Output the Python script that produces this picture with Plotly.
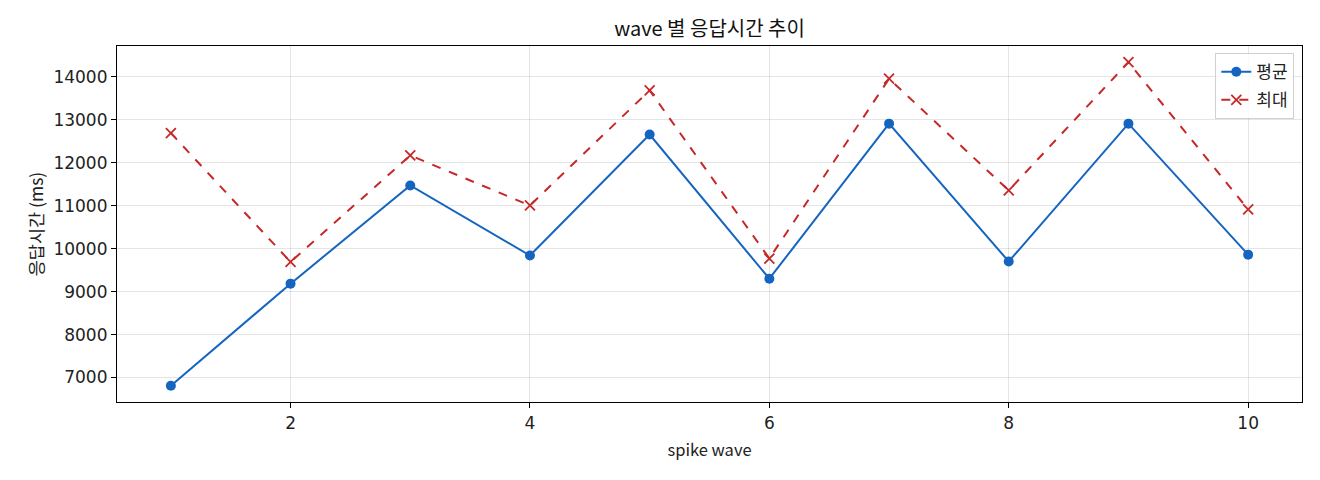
import plotly.graph_objects as go

# wave 별 응답시간 (ms)
waves = [1, 2, 3, 4, 5, 6, 7, 8, 9, 10]
avg_ms = [6810, 9185, 11470, 9840, 12655, 9300, 12910, 9700, 12910, 9860]
max_ms = [12690, 9690, 12170, 11005, 13685, 9770, 13955, 11355, 14340, 10915]

kr_font = "Noto Sans CJK KR, Noto Sans, sans-serif"
tick_font = "'DejaVu Sans', sans-serif"

fig = go.Figure()
fig.add_trace(go.Scatter(
    x=waves, y=avg_ms, name="평균", mode="lines+markers", legendgroup="a",
    line=dict(color="#1565C0", width=2),
    marker=dict(symbol="circle", size=10, color="#1565C0"),
))
fig.add_trace(go.Scatter(
    x=waves, y=max_ms, name="최대", mode="lines+markers", legendgroup="b",
    line=dict(color="#C62828", width=2, dash="dash"),
    marker=dict(symbol="x-thin", size=10, line=dict(color="#C62828", width=1.8)),
))

# page adds 8px body margin, so the figure is 8px smaller
fig.update_layout(
    width=1312, height=472,
    margin=dict(l=109, r=18, t=38, b=78),
    paper_bgcolor="white", plot_bgcolor="white",
    font=dict(family=kr_font, size=16, color="#222"),
    title=dict(text="wave 별 응답시간 추이", xref="paper", x=0.5, xanchor="center",
               y=0.955, yanchor="middle", font=dict(size=20, color="#111")),
    showlegend=True,
    legend=dict(x=0.9935, y=0.98, xanchor="right", yanchor="top",
                bgcolor="rgba(255,255,255,0.8)", bordercolor="#d0d0d0", borderwidth=1,
                font=dict(size=17), tracegroupgap=3),
)
fig.update_xaxes(
    range=[0.55, 10.45], tickvals=[2, 4, 6, 8, 10],
    tickfont=dict(family=tick_font, size=17),
    showgrid=True, gridcolor="rgba(0,0,0,0.1)", gridwidth=1,
    showline=True, linecolor="black", linewidth=1.2, mirror=True,
    ticks="outside", ticklen=5, tickcolor="black",
    zeroline=False,
    title=dict(text="spike wave", font=dict(size=16.5), standoff=12),
)
fig.update_yaxes(
    range=[6430, 14717], tickvals=[7000, 8000, 9000, 10000, 11000, 12000, 13000, 14000],
    tickformat="d", tickfont=dict(family=tick_font, size=17),
    showgrid=True, gridcolor="rgba(0,0,0,0.1)", gridwidth=1,
    showline=True, linecolor="black", linewidth=1.2, mirror=True,
    ticks="outside", ticklen=5, tickcolor="black",
    zeroline=False,
    title=dict(text="응답시간 (ms)", font=dict(size=17.5), standoff=5),
)

fig.write_html("out.html")
